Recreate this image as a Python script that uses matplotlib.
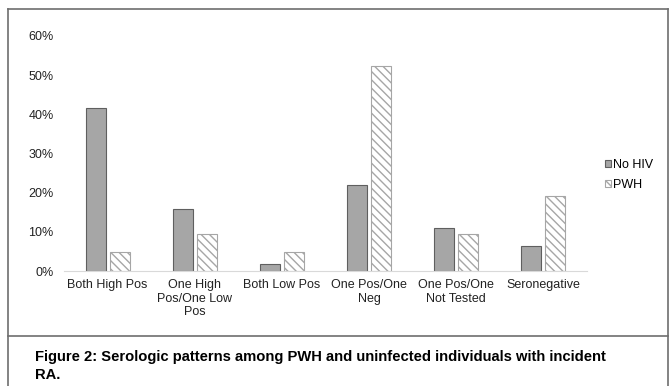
import numpy as np
import matplotlib
matplotlib.use("Agg")
import matplotlib.pyplot as plt
from matplotlib.lines import Line2D

plt.rcParams['font.family'] = ['Liberation Sans', 'DejaVu Sans']
plt.rcParams['hatch.linewidth'] = 1.0

categories = ["Both High Pos", "One High\nPos/One Low\nPos", "Both Low Pos",
              "One Pos/One\nNeg", "One Pos/One\nNot Tested", "Seronegative"]
no_hiv = [41.6, 15.8, 1.8, 21.9, 11.1, 6.4]
pwh = [4.76, 9.52, 4.76, 52.38, 9.52, 19.05]
y_ticks = [0, 10, 20, 30, 40, 50, 60]

W, H = 671, 386
fig = plt.figure(figsize=(W / 100, H / 100), dpi=100)

# frame around chart and caption
frame = "#6e6e6e"
fig.add_artist(Line2D([8 / W, 668 / W], [1 - 9 / H, 1 - 9 / H], color=frame, lw=1.2))
fig.add_artist(Line2D([8 / W, 8 / W], [0, 1 - 9 / H], color=frame, lw=1.2))
fig.add_artist(Line2D([668 / W, 668 / W], [0, 1 - 9 / H], color=frame, lw=1.2))
fig.add_artist(Line2D([8 / W, 668 / W], [1 - 336 / H, 1 - 336 / H], color=frame, lw=1.2))

ax = fig.add_axes([64 / W, 1 - 271 / H, (587 - 64) / W, (271 - 36) / H])
x = np.arange(len(categories))
bw = 0.23
ax.bar(x - 0.138, no_hiv, bw, color="#a6a6a6", edgecolor="#5f5f5f", lw=0.8, label="No HIV")
ax.bar(x + 0.138, pwh, bw, color="white", edgecolor="#a6a6a6", hatch="\\\\\\\\", lw=0.8, label="PWH")

ax.set_xlim(-0.5, len(categories) - 0.5)
ax.set_ylim(0, 60)
ax.set_yticks(y_ticks)
ax.set_yticklabels([f"{t}%" for t in y_ticks])
ax.set_xticks(x)
ax.set_xticklabels(categories, linespacing=1.15)
for s in ["top", "right", "left"]:
    ax.spines[s].set_visible(False)
ax.spines["bottom"].set_color("#d9d9d9")
ax.tick_params(axis="both", length=0, labelsize=9, colors="#222222")
ax.tick_params(axis="y", pad=7.5)
ax.tick_params(axis="x", pad=6)

ax.legend(loc="center left", bbox_to_anchor=(600 / W, 1 - 175 / H), bbox_transform=fig.transFigure,
          frameon=False, fontsize=9, handlelength=0.45, handleheight=0.45, handletextpad=0.2,
          labelspacing=0.6, borderaxespad=0)

fig.text(35 / W, 1 - 357 / H, "Figure 2: Serologic patterns among PWH and uninfected individuals with incident",
         fontsize=10.6, fontweight="bold", va="center", ha="left")
fig.text(35 / W, 1 - 375 / H, "RA.", fontsize=10.6, fontweight="bold", va="center", ha="left")

fig.savefig("out.png", dpi=100)
